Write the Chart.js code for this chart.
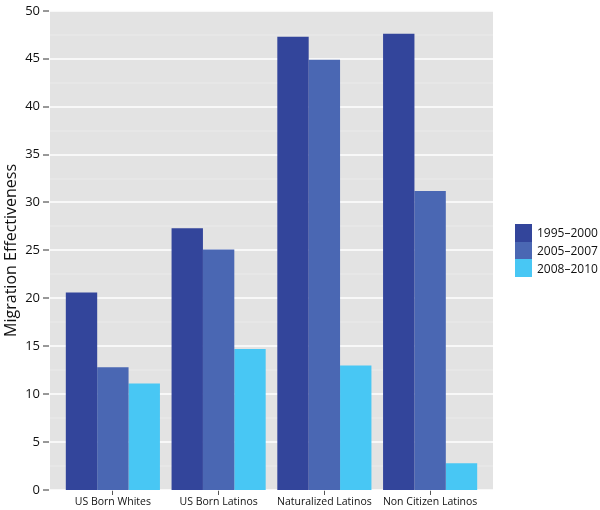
<!DOCTYPE html>
<html>
<head>
<meta charset="utf-8">
<script src="https://cdn.jsdelivr.net/npm/chart.js@4/dist/chart.umd.min.js"></script>
<style>
  body { margin: 0; background: #fff; }
  #wrap { position: relative; width: 600px; height: 510px; }
  #legend { position: absolute; left: 515px; top: 224px; font-family: "Open Sans", sans-serif; font-size: 12px; color: #111; white-space: nowrap; }
  .item { display: flex; align-items: center; height: 17.7px; }
  .box { width: 17px; height: 17.7px; margin-right: 5px; flex: none; }
</style>
</head>
<body>
<div id="wrap">
  <canvas id="chart" width="600" height="510"></canvas>
  <div id="legend"></div>
</div>
<script>
const categories = ["US Born Whites", "US Born Latinos", "Naturalized Latinos", "Non Citizen Latinos"];
const periods = ["1995\u20132000", "2005\u20132007", "2008\u20132010"];
const colors = ["#33459b", "#4a67b3", "#48c7f4"];

const values1995 = [20.6, 27.3, 47.3, 47.6];
const values2005 = [12.8, 25.1, 44.9, 31.2];
const values2008 = [11.1, 14.7, 13.0, 2.8];

const allValues = [values1995, values2005, values2008];

// panel is a bit wider than the bar area (like ggplot expansion)
const panelExtra = 10;

// gray panel + grid lines + y tick marks, drawn from the y scale
const panelBg = {
  id: 'panelBg',
  beforeDatasetsDraw(chart) {
    const a = chart.chartArea;
    const c = chart.ctx;
    const y = chart.scales.y;
    const left = a.left - panelExtra;
    const right = a.right + panelExtra;
    c.save();
    c.fillStyle = '#e3e3e3';
    c.fillRect(left, a.top, right - left, a.bottom - a.top);
    y.ticks.forEach(t => {
      const py = Math.round(y.getPixelForValue(t.value));
      const major = t.value % 5 === 0;
      c.strokeStyle = major ? '#ffffff' : '#ebebeb';
      c.lineWidth = major ? 1.6 : 1;
      c.beginPath();
      c.moveTo(left, py);
      c.lineTo(right, py);
      c.stroke();
      if (major) {
        c.strokeStyle = '#333';
        c.lineWidth = 1;
        c.beginPath();
        c.moveTo(left - 7, py);
        c.lineTo(left - 1, py);
        c.stroke();
      }
    });
    c.restore();
  }
};

const ctx = document.getElementById('chart');

const chart = new Chart(ctx, {
  type: 'bar',
  data: {
    labels: categories,
    datasets: periods.map((p, i) => ({
      label: p,
      data: allValues[i],
      backgroundColor: colors[i],
      borderWidth: 0,
      categoryPercentage: 0.89,
      barPercentage: 1.0
    }))
  },
  options: {
    responsive: false,
    animation: false,
    layout: { padding: { top: 5, right: 117, left: 0, bottom: 0 } },
    plugins: { legend: { display: false }, tooltip: { enabled: false } },
    scales: {
      x: {
        grid: { display: true, drawOnChartArea: false, offset: false, tickLength: 5, tickColor: '#555' },
        border: { display: false },
        ticks: { color: '#111', font: { family: 'Open Sans', size: 10.5 }, padding: 1, maxRotation: 0 },
        afterFit(scale) { scale.height = 20; }
      },
      y: {
        min: 0,
        max: 50,
        ticks: {
          stepSize: 2.5,
          color: '#111',
          font: { family: 'Open Sans', size: 13 },
          padding: 3,
          callback: v => (v % 5 === 0 ? v : '')
        },
        // the real grid is drawn by panelBg; tickLength only moves labels left
        grid: { display: false, drawTicks: true, tickLength: 17 },
        border: { display: false },
        title: {
          display: true,
          text: 'Migration Effectiveness',
          color: '#111',
          font: { family: 'Open Sans', size: 16 },
          padding: { top: 2, bottom: 0 }
        },
        afterFit(scale) { scale.width = 60; }
      }
    }
  },
  plugins: [panelBg]
});

// legend on the right
const legend = document.getElementById('legend');
periods.forEach((p, i) => {
  const row = document.createElement('div');
  row.className = 'item';
  row.innerHTML = '<span class="box" style="background:' + colors[i] + '"></span><span>' + p + '</span>';
  legend.appendChild(row);
});
</script>
</body>
</html>
